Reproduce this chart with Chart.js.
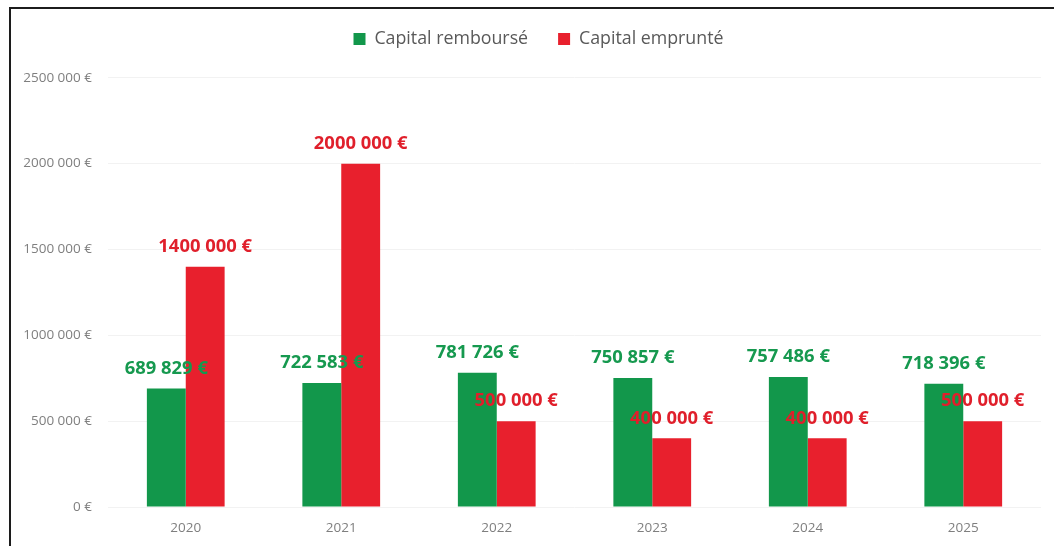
<!DOCTYPE html>
<html>
<head>
<meta charset="utf-8">
<script src="https://cdn.jsdelivr.net/npm/chart.js@4.4.1/dist/chart.umd.min.js"></script>
<style>
  html, body { margin: 0; padding: 0; background: #fff; overflow: hidden; }
  #frame { position: absolute; left: 9px; top: 7px; width: 1100px; height: 600px; border: 2px solid #1c1c1c; }
  #chart { position: absolute; left: 0; top: 0; }
</style>
</head>
<body>
<div id="frame"></div>
<canvas id="chart" width="1054" height="546"></canvas>
<script>
// donnees
const years = ["2020", "2021", "2022", "2023", "2024", "2025"];
const capitalRembourse = [689829, 722583, 781726, 750857, 757486, 718396];
const capitalEmprunte = [1400000, 2000000, 500000, 400000, 400000, 500000];
const yTicks = [0, 500000, 1000000, 1500000, 2000000, 2500000];

const green = "#12974b";
const red = "#e8202d";

// "1400 000 €" style (espace seulement avant les milliers)
function fmtEuro(v) {
  const s = String(Math.round(v));
  return (s.length > 3 ? s.slice(0, -3) + " " + s.slice(-3) : s) + " €";
}

// legende : plus de place en dessous et un peu decalee vers la droite
const legendTweak = {
  id: "legendTweak",
  afterInit(chart) {
    const legend = chart.legend;
    const fit = legend.fit;
    legend.fit = function () {
      fit.call(this);
      this.height += 20;
    };
    const draw = legend.draw;
    legend.draw = function () {
      const ctx = this.ctx;
      ctx.save();
      ctx.translate(18, 0);
      draw.call(this);
      ctx.restore();
    };
  },
};

// etiquettes de valeur au-dessus des barres
const valueLabels = {
  id: "valueLabels",
  afterDatasetsDraw(chart) {
    const ctx = chart.ctx;
    ctx.save();
    ctx.font = "bold 18.4px 'Open Sans'";
    ctx.textAlign = "center";
    ctx.textBaseline = "middle";
    chart.data.datasets.forEach((ds, i) => {
      const meta = chart.getDatasetMeta(i);
      ctx.fillStyle = ds.labelColor;
      meta.data.forEach((bar, j) => {
        ctx.fillText(fmtEuro(ds.data[j]), bar.x, bar.y - 20);
      });
    });
    ctx.restore();
  },
};

new Chart(document.getElementById("chart").getContext("2d"), {
  type: "bar",
  data: {
    labels: years,
    datasets: [
      {
        label: "Capital remboursé",
        data: capitalRembourse,
        backgroundColor: green,
        labelColor: "#16994f",
      },
      {
        label: "Capital emprunté",
        data: capitalEmprunte,
        backgroundColor: red,
        labelColor: "#e01f2b",
      },
    ],
  },
  options: {
    responsive: false,
    animation: false,
    layout: { padding: { left: 0, right: 13, top: 0, bottom: 0 } },
    datasets: {
      bar: { categoryPercentage: 0.5, barPercentage: 1, borderWidth: 0 },
    },
    plugins: {
      legend: {
        position: "top",
        labels: {
          boxWidth: 12,
          boxHeight: 12,
          padding: 30,
          color: "#595959",
          font: { family: "'Open Sans'", size: 17.8 },
        },
      },
      tooltip: { enabled: false },
    },
    scales: {
      x: {
        grid: { display: false, drawTicks: false },
        border: { display: false },
        ticks: {
          color: "#7f7f7f",
          padding: 13,
          font: { family: "'Open Sans'", size: 13.5 },
        },
        afterFit(s) {
          s.height = 39;
        },
      },
      y: {
        min: 0,
        max: 2500000,
        grid: { color: "#f2f2f2", drawTicks: false },
        border: { display: false },
        afterBuildTicks(s) {
          s.ticks = yTicks.map((v) => ({ value: v }));
        },
        ticks: {
          color: "#7f7f7f",
          padding: 16,
          font: { family: "'Open Sans'", size: 13.5 },
          callback: (v) => fmtEuro(v),
        },
        afterFit(s) {
          s.width = 108;
        },
      },
    },
  },
  plugins: [legendTweak, valueLabels],
});
</script>
</body>
</html>
